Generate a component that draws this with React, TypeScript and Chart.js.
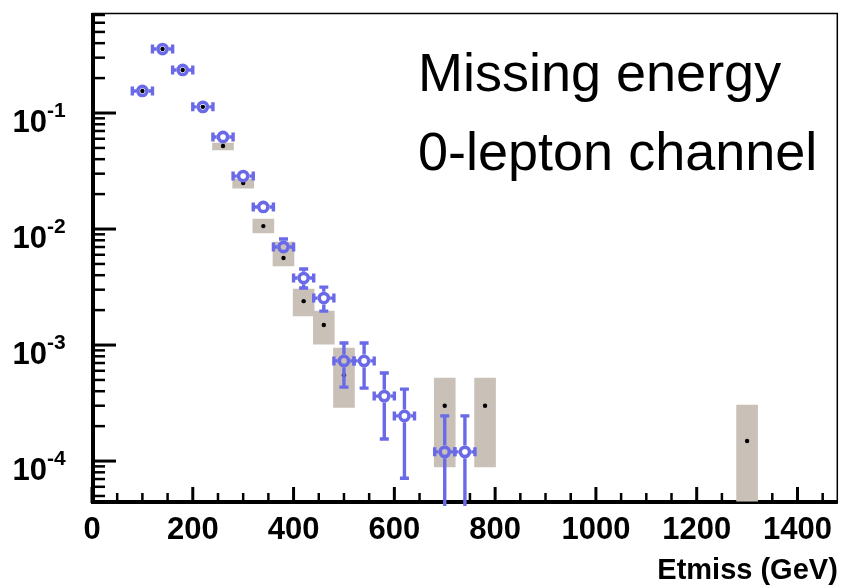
import React, { useEffect, useRef } from 'react';
import { Chart, registerables } from 'chart.js';

Chart.register(...registerables);

// ---- data (Etmiss in GeV, normalised entries) ----
const dataX = [100, 140, 180, 220, 260, 300, 340, 380, 420, 460, 500, 540, 580, 620, 700, 740];
const dataY = [0.155, 0.356, 0.235, 0.113, 0.0621, 0.0286, 0.0155, 0.007, 0.00378, 0.00254, 0.00073, 0.00073, 0.000363, 0.000245, 0.00012, 0.00012];
const dataHi = [0.158, 0.362, 0.24, 0.116, 0.064, 0.0297, 0.0163, 0.0082, 0.00452, 0.00316, 0.00104, 0.00104, 0.000574, 0.000417, 0.000245, 0.000245];
const dataLo = [0.152, 0.35, 0.23, 0.11, 0.0602, 0.0275, 0.0147, 0.0062, 0.0031, 0.00196, 0.000434, 0.000425, 0.000155, 0.000071, 0.000001, 0.000001];
const dataXErr = 20;

const mcX = [100, 140, 180, 220, 260, 300, 340, 380, 420, 460, 500, 700, 780, 1300];
const mcY = [0.155, 0.356, 0.235, 0.113, 0.052, 0.0249, 0.0106, 0.00562, 0.00239, 0.00149, 0.00055, 0.0003, 0.0003, 0.000149];
const mcLo = [0.1545, 0.355, 0.2343, 0.1127, 0.048, 0.0225, 0.00924, 0.0048, 0.00178, 0.00102, 0.00029, 0.000089, 0.000089, 0.000045];
const mcHi = [0.1555, 0.357, 0.2357, 0.1133, 0.0551, 0.027, 0.0122, 0.00773, 0.00304, 0.00196, 0.00094, 0.00052, 0.00052, 0.000304];

const xMin = 0;
const xMax = 1480;
const xTicks = [0, 200, 400, 600, 800, 1000, 1200, 1400];
const xMinorStep = 50;
const yMin = 4.35e-5;
const yMax = 0.728;
const yDecades = [-4, -3, -2, -1];

const labelLines = ['Missing energy', '0-lepton channel'];
const xTitle = 'Etmiss (GeV)';

const BLUE = '#6a6ae8';
const GRAY = '#c9c1b8';
const FONT = '"Liberation Sans", Arial, Helvetica, sans-serif';
const DATA_INDEX = 1;

const framePlugin = {
  id: 'frameTicks',
  beforeDatasetsDraw(chart: any) {
    const { ctx, chartArea: a, scales } = chart;
    const x = scales.x;
    const y = scales.y;
    ctx.save();
    ctx.strokeStyle = '#000';
    ctx.lineCap = 'butt';
    // x ticks (inward)
    for (let v = xMin; v <= xMax; v += xMinorStep) {
      const px = x.getPixelForValue(v);
      const major = v % 200 === 0;
      ctx.lineWidth = major ? 3 : 2.5;
      ctx.beginPath();
      ctx.moveTo(px, a.bottom);
      ctx.lineTo(px, a.bottom - (major ? 16 : 10));
      ctx.stroke();
    }
    // y ticks (inward)
    for (let d = -5; d <= 0; d++) {
      for (let m = 1; m <= 9; m++) {
        const v = m * Math.pow(10, d);
        if (v < yMin || v > yMax) continue;
        const py = y.getPixelForValue(v);
        const major = m === 1;
        ctx.lineWidth = major ? 3 : 2.5;
        ctx.beginPath();
        ctx.moveTo(a.left, py);
        ctx.lineTo(a.left + (major ? 24 : 13), py);
        ctx.stroke();
      }
    }
    // frame
    ctx.lineWidth = 1.5;
    ctx.beginPath();
    ctx.moveTo(a.left, a.top + 0.5);
    ctx.lineTo(a.right - 0.5, a.top + 0.5);
    ctx.lineTo(a.right - 0.5, a.bottom);
    ctx.stroke();
    ctx.lineWidth = 4;
    ctx.beginPath();
    ctx.moveTo(a.left + 1, a.top);
    ctx.lineTo(a.left + 1, a.bottom - 1);
    ctx.lineTo(a.right, a.bottom - 1);
    ctx.stroke();
    ctx.restore();
  },
  afterDraw(chart: any) {
    const { ctx, scales } = chart;
    const y = scales.y;
    ctx.save();
    ctx.fillStyle = '#000';
    for (const d of yDecades) {
      const py = y.getPixelForValue(Math.pow(10, d));
      ctx.font = `bold 31px ${FONT}`;
      ctx.textAlign = 'right';
      ctx.textBaseline = 'alphabetic';
      ctx.fillText('10', 47, py + 19);
      ctx.font = `bold 21px ${FONT}`;
      ctx.textAlign = 'left';
      ctx.fillText(String(d), 47, py + 4);
    }
    ctx.font = `54px ${FONT}`;
    ctx.textAlign = 'left';
    ctx.fillText(labelLines[0], 418, 91);
    ctx.fillText(labelLines[1], 418, 170);
    ctx.restore();
  },
};

const errorBarPlugin = {
  id: 'errorBars',
  beforeDatasetDraw(chart: any, args: any) {
    if (args.index !== DATA_INDEX) return;
    const { ctx, chartArea: a, scales } = chart;
    const x = scales.x;
    const y = scales.y;
    const r = 6.3;
    const cap = 4.5;
    ctx.save();
    ctx.beginPath();
    ctx.rect(a.left, a.top, a.right - a.left, a.bottom - a.top + 3);
    ctx.clip();
    ctx.strokeStyle = BLUE;
    ctx.lineWidth = 3.4;
    ctx.lineCap = 'butt';
    for (let i = 0; i < dataX.length; i++) {
      const px = x.getPixelForValue(dataX[i]);
      const py = y.getPixelForValue(dataY[i]);
      const xl = x.getPixelForValue(dataX[i] - dataXErr);
      const xr = x.getPixelForValue(dataX[i] + dataXErr);
      ctx.beginPath();
      ctx.moveTo(xl, py);
      ctx.lineTo(px - r, py);
      ctx.moveTo(px + r, py);
      ctx.lineTo(xr, py);
      ctx.moveTo(xl, py - cap);
      ctx.lineTo(xl, py + cap);
      ctx.moveTo(xr, py - cap);
      ctx.lineTo(xr, py + cap);
      const yh = y.getPixelForValue(dataHi[i]);
      const yl = y.getPixelForValue(dataLo[i]);
      if (py - yh > r) {
        ctx.moveTo(px, py - r);
        ctx.lineTo(px, yh);
        ctx.moveTo(px - cap, yh);
        ctx.lineTo(px + cap, yh);
      }
      if (yl - py > r) {
        ctx.moveTo(px, py + r);
        ctx.lineTo(px, yl);
        ctx.moveTo(px - cap, yl);
        ctx.lineTo(px + cap, yl);
      }
      ctx.stroke();
    }
    ctx.restore();
  },
};

export default function App() {
  const ref = useRef<HTMLCanvasElement | null>(null);
  useEffect(() => {
    if (!ref.current) return;
    const chart = new Chart(ref.current, {
      type: 'scatter',
      data: {
        datasets: [
          {
            label: 'MC',
            data: mcX.map((v, i) => ({ x: v, y: mcY[i] })),
            backgroundColor: '#000',
            borderWidth: 0,
            pointRadius: 2.2,
            order: 2,
          } as any,
          {
            label: 'Data',
            data: dataX.map((v, i) => ({ x: v, y: dataY[i] })),
            backgroundColor: 'rgba(0,0,0,0)',
            borderColor: BLUE,
            borderWidth: 3.6,
            pointRadius: 4.6,
            order: 1,
          } as any,
          {
            type: 'bar',
            label: 'MC uncertainty',
            data: mcX.map((v, i) => ({ x: v, y: [mcLo[i], mcHi[i]] })),
            backgroundColor: GRAY,
            borderWidth: 0,
            barThickness: 21,
            grouped: false,
            order: 3,
          } as any,
        ],
      },
      options: {
        animation: false,
        responsive: false,
        events: [],
        layout: { padding: { left: 0, right: 1, top: 13, bottom: 0 } },
        plugins: { legend: { display: false }, tooltip: { enabled: false } },
        scales: {
          x: {
            type: 'linear',
            min: xMin,
            max: xMax,
            offset: false,
            grid: { display: false },
            border: { display: false },
            afterBuildTicks: (s: any) => {
              s.ticks = xTicks.map((v) => ({ value: v }));
            },
            afterFit: (s: any) => {
              s.height = 82;
            },
            ticks: {
              color: '#000',
              padding: 4,
              autoSkip: false,
              maxRotation: 0,
              callback: (v: any) => String(v),
              font: { family: FONT, weight: 'bold', size: 31, lineHeight: 1 },
            },
            title: {
              display: true,
              text: xTitle,
              align: 'end',
              color: '#000',
              padding: 0,
              font: { family: FONT, weight: 'bold', size: 29, lineHeight: 1 },
            },
          },
          y: {
            type: 'logarithmic',
            min: yMin,
            max: yMax,
            grid: { display: false },
            border: { display: false },
            ticks: { display: false },
            afterFit: (s: any) => {
              s.width = 92;
            },
          },
        },
      } as any,
      plugins: [framePlugin, errorBarPlugin],
    });
    return () => chart.destroy();
  }, []);
  return (
    <canvas
      ref={ref}
      width={846}
      height={585}
      style={{ position: 'fixed', left: 0, top: 0, display: 'block', background: '#fff' }}
    />
  );
}
